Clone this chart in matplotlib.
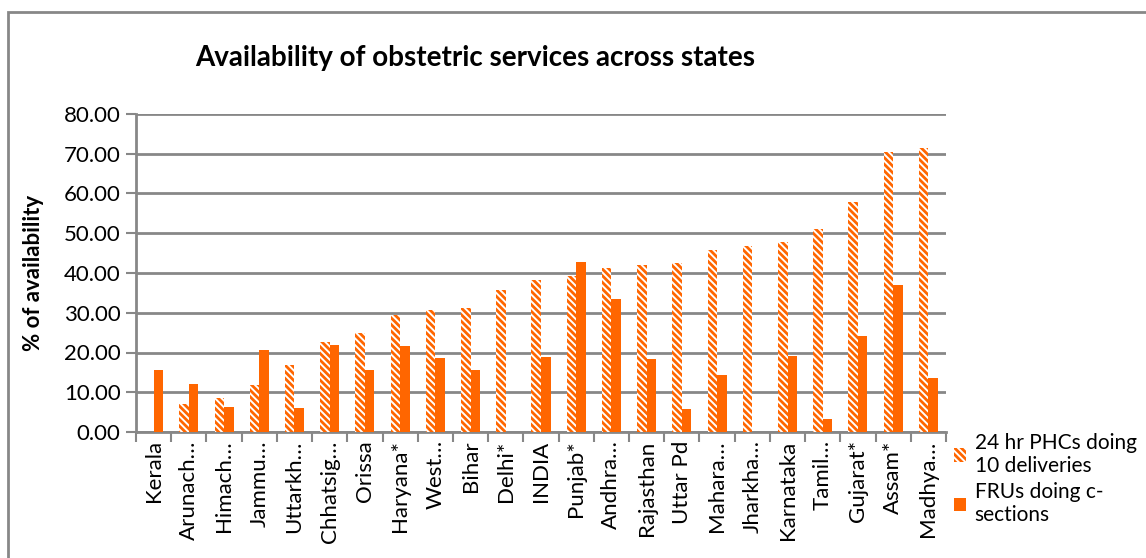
import numpy as np
import matplotlib.pyplot as plt
from matplotlib.patches import Rectangle

plt.rcParams['font.family'] = ['Lato', 'DejaVu Sans']
plt.rcParams['hatch.linewidth'] = 2.0

states = ["Kerala", "Arunach…", "Himach…", "Jammu…", "Uttarkh…", "Chhatsig…",
          "Orissa", "Haryana*", "West…", "Bihar", "Delhi*", "INDIA", "Punjab*",
          "Andhra…", "Rajasthan", "Uttar Pd", "Mahara…", "Jharkha…", "Karnataka",
          "Tamil…", "Gujarat*", "Assam*", "Madhya…"]
phc_24hr = [0.0, 7.0, 8.5, 11.8, 16.9, 22.6, 24.9, 29.4, 30.7, 31.2, 35.7, 38.2,
            39.2, 41.3, 42.0, 42.5, 45.8, 46.8, 47.8, 51.1, 57.9, 70.4, 71.4]
fru_csec = [15.6, 12.1, 6.3, 20.6, 6.0, 21.9, 15.6, 21.6, 18.6, 15.6, 0.0, 18.9,
            42.8, 33.5, 18.4, 5.8, 14.3, 0.0, 19.1, 3.3, 24.2, 37.0, 13.6]
yticks = np.arange(0, 81, 10)

orange = "#FF6600"
gray = "#878787"

fig = plt.figure(figsize=(11.46, 5.58), dpi=100)
ax = fig.add_axes([136 / 1146, 1 - 432 / 558, 810 / 1146, 318 / 558])

x = np.arange(len(states))
w = 0.27
ax.bar(x - w / 2, phc_24hr, w, color="white", edgecolor=orange, hatch="\\" * 5,
       linewidth=0, label="24 hr PHCs doing\n10 deliveries", zorder=3)
ax.bar(x + w / 2, fru_csec, w, color=orange, linewidth=0,
       label="FRUs doing c-\nsections", zorder=3)

ax.set_xlim(-0.5, len(states) - 0.5)
ax.set_ylim(0, 80)
ax.set_yticks(yticks)
ax.set_yticklabels(["%.2f" % v for v in yticks], fontsize=16)
ax.yaxis.grid(True, color=gray, linewidth=2, zorder=0)

ax.set_xticks(x)
ax.set_xticklabels(states, rotation=90, fontsize=16)
ax.set_xticks(np.arange(-0.5, len(states)), minor=True)
ax.tick_params(axis="x", which="major", length=0, pad=6)
ax.tick_params(axis="x", which="minor", length=7, width=1.5, color=gray)
ax.tick_params(axis="y", length=7, width=1.5, color=gray, pad=4)

for side in ["top", "right"]:
    ax.spines[side].set_visible(False)
for side in ["left", "bottom"]:
    ax.spines[side].set_color(gray)
    ax.spines[side].set_linewidth(2)

ax.set_ylabel("% of availability", fontsize=16, fontweight="bold", labelpad=14)
fig.text(475 / 1146, 1 - 58 / 558, "Availability of obstetric services across states",
         fontsize=20, fontweight="bold", ha="center", va="center")

ax.legend(loc="upper left", bbox_to_anchor=(935 / 1146, 1 - 414 / 558),
          bbox_transform=fig.transFigure, frameon=False, fontsize=15,
          handlelength=0.6, handleheight=0.6, handletextpad=0.4,
          labelspacing=0.3)

# outer chart frame
fig.patches.append(Rectangle((8 / 1146, -0.05), 1.1, 1 - 12 / 558 + 0.05,
                             transform=fig.transFigure, fill=False,
                             edgecolor=gray, linewidth=2))

fig.savefig("out.png", dpi=100)
